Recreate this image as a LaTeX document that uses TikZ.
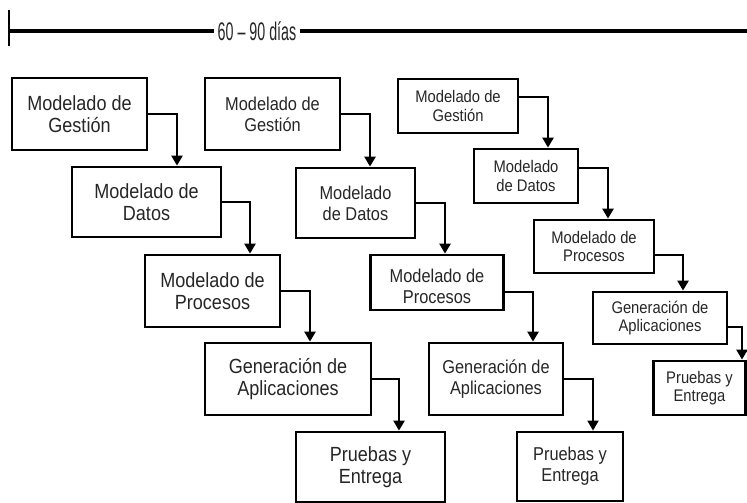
\documentclass[tikz,border=0pt]{standalone}
\usepackage{fontspec}
\setmainfont{Liberation Sans}
\newfontfamily\boxfont[FakeStretch=0.88]{Liberation Sans}
\newfontfamily\spanfont[FakeStretch=0.56]{Liberation Sans}
\usepackage{tikz}
\usetikzlibrary{arrows.meta}
\tikzset{
    boxa/.style = {rectangle, draw=black, line width=2.8pt, align=center, fill=white, inner sep=0pt, text=black!85, font=\boxfont\fontsize{20.5}{22}\selectfont},
    boxb/.style = {rectangle, draw=black, line width=2.8pt, align=center, fill=white, inner sep=0pt, text=black!85, font=\boxfont\fontsize{18.6}{21}\selectfont},
    boxc/.style = {rectangle, draw=black, line width=2.8pt, align=center, fill=white, inner sep=0pt, text=black!85, font=\boxfont\fontsize{16.8}{18.5}\selectfont},
}

\begin{document}
\begin{tikzpicture}[
	x=1pt, y=-1pt,
	thick,
	>={Triangle[width=11pt,length=10pt]}
]
\tikzset{
    edgen/.style = {->, line width=2.7pt},
    edget/.style = {->, line width=1.8pt}
}
\useasboundingbox (0,0) rectangle (747,503);
% time span
\node[font=\spanfont\fontsize{25.5}{26}\selectfont, text=black!85, inner sep=3pt] at (257,31) (span) {60 – 90 días};
\coordinate (tl) at (9,31);
\coordinate (tr) at (747,31);
\draw[line width=3.4pt] (tl) -- (span);
\draw[line width=3.4pt] (span) -- (tr);
\draw[line width=2.2pt] ([yshift=21pt]tl) -- ([yshift=-15pt]tl);
%
\node[boxa, minimum width=135pt, minimum height=72pt] at (79.5,114) (g1) {Modelado de\\Gestión};
\node[boxa, minimum width=149pt, minimum height=70pt] at (146.5,202) (d1) {Modelado de\\Datos};
\node[boxa, minimum width=135pt, minimum height=72pt] at (212.5,291) (p1) {Modelado de\\Procesos};
\node[boxa, minimum width=166pt, minimum height=72pt] at (288,379) (a1) {Generación de\\Aplicaciones};
\node[boxa, minimum width=149pt, minimum height=70pt] at (370.5,467) (e1) {Pruebas y\\Entrega};
%
\node[boxb, minimum width=135pt, minimum height=72pt] at (272.5,114) (g2) {Modelado de\\Gestión};
\node[boxb, minimum width=119pt, minimum height=70pt] at (355.5,203) (d2) {Modelado\\de Datos};
\node[boxb, minimum width=133pt, minimum height=55pt] at (437,282.5) (p2) {\rule{0pt}{22pt}Modelado de\\Procesos};
\node[boxb, minimum width=134pt, minimum height=72pt] at (496,379) (a2) {Generación de\\Aplicaciones};
\node[boxb, minimum width=106pt, minimum height=69pt] at (570,466.5) (e2) {Pruebas y\\Entrega};
%
\node[boxc, minimum width=120pt, minimum height=54pt] at (458,106) (g3) {Modelado de\\Gestión};
\node[boxc, minimum width=104pt, minimum height=54pt] at (526,176) (d3) {Modelado\\de Datos};
\node[boxc, minimum width=120pt, minimum height=53pt] at (594,246.5) (p3) {Modelado de\\Procesos};
\node[boxc, minimum width=134pt, minimum height=52pt] at (660,318) (a3) {Generación de\\Aplicaciones};
\node[boxc, minimum width=92pt, minimum height=54pt] at (699.5,388) (e3) {Pruebas y\\Entrega};
%
\draw[edgen] (g1.east) -| ([xshift=30.5pt]d1.north);
\draw[edgen] (d1.east) -| ([xshift=37.5pt]p1.north);
\draw[edgen] (p1.east) -| ([xshift=22pt]a1.north);
\draw[edgen] (a1.east) -| ([xshift=28.5pt]e1.north);
%
\draw[edgen] (g2.east) -| ([xshift=14.5pt]d2.north);
\draw[edgen] (d2.east) -| ([xshift=8pt]p2.north);
\draw[edgen] ([yshift=-9.5pt]p2.east) -| ([xshift=37pt]a2.north);
\draw[edget] (a2.east) -| ([xshift=23pt]e2.north);
%
\draw[edgen] ([yshift=9pt]g3.east) -| ([xshift=22pt]d3.north);
\draw[edgen] ([yshift=8pt]d3.east) -| ([xshift=14pt]p3.north);
\draw[edgen] ([yshift=-8.5pt]p3.east) -| ([xshift=23pt]a3.north);
\draw[edgen] ([yshift=-9pt]a3.east) -| ([xshift=42.5pt]e3.north);
\end{tikzpicture}
\end{document}
